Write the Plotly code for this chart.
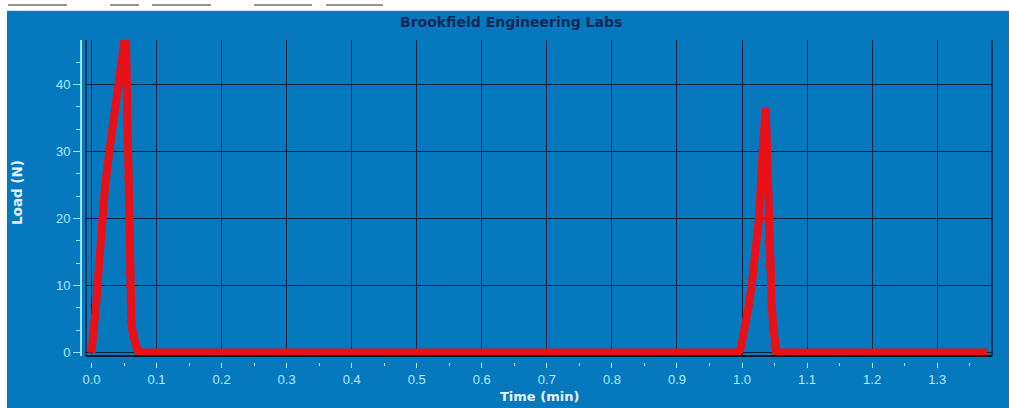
import plotly.graph_objects as go

# ---- data ----
# time in minutes, load in N
peak1_rise_t = [0.000, 0.002, 0.004, 0.0075, 0.010, 0.0157, 0.021, 0.0274, 0.035, 0.0428, 0.0515, 0.0528]
peak1_rise_load = [0.0, 1.5, 3.5, 7.6, 11.0, 20.0, 25.0, 30.0, 35.0, 40.0, 46.6, 48.0]

peak1_fall_t = [0.0531, 0.0534, 0.0537, 0.0540, 0.0543, 0.0546, 0.0550, 0.0553, 0.0556, 0.0560,
                0.0564, 0.0568, 0.0572, 0.0576, 0.0579, 0.0582, 0.0585, 0.0588, 0.0592, 0.0597,
                0.0605, 0.0615, 0.0630, 0.0650, 0.0670, 0.0695, 0.0720, 0.0746]
peak1_fall_load = [46.0, 44.0, 42.0, 40.0, 38.0, 36.0, 34.0, 32.0, 30.0, 28.0,
                   26.0, 24.0, 22.0, 20.0, 18.0, 16.0, 14.0, 12.0, 10.0, 8.0,
                   6.0, 4.5, 3.2, 2.2, 1.4, 0.7, 0.3, 0.0]

baseline_t = [0.0746, 0.25, 0.50, 0.75, 0.9944]
baseline_load = [0.0, 0.0, 0.0, 0.0, 0.0]

peak2_rise_t = [0.9944, 0.9985, 1.0046, 1.0100, 1.0149, 1.0210, 1.0261, 1.0318, 1.0364]
peak2_rise_load = [0.0, 0.8, 3.6, 6.8, 10.0, 15.0, 20.0, 30.0, 36.5]

peak2_fall_t = [1.0370, 1.0378, 1.0385, 1.0390, 1.0395, 1.0410, 1.0425, 1.0441, 1.0460, 1.0482, 1.0500, 1.0530]
peak2_fall_load = [35.0, 32.5, 30.0, 25.0, 20.0, 16.5, 13.0, 10.0, 6.5, 3.6, 1.2, 0.0]

tail_t = [1.0530, 1.20, 1.3766]
tail_load = [0.0, 0.0, 0.0]

x_ticks = [0.0, 0.1, 0.2, 0.3, 0.4, 0.5, 0.6, 0.7, 0.8, 0.9, 1.0, 1.1, 1.2, 1.3]
x_ticklabels = ["0.0", "0.1", "0.2", "0.3", "0.4", "0.5", "0.6", "0.7", "0.8", "0.9", "1.0", "1.1", "1.2", "1.3"]
y_ticks = [0, 10, 20, 30, 40]
y_ticklabels = ["0", "10", "20", "30", "40"]

title_text = "Brookfield Engineering Labs"
x_title = "Time (min)"
y_title = "Load (N)"

# ---- styling ----
W, H = 1009, 408
BLUE = "rgb(6,120,190)"
RED = "rgb(235,16,24)"
GRID = "rgb(12,30,64)"
TICKC = "rgb(175,234,250)"
AXISC = "rgb(150,228,245)"
TITLEC = "rgb(230,242,255)"

L, R, T, B = 81, 17, 40, 46   # plot box incl. offset axis line & floating x ticks
pw = W - L - R
ph = H - T - B

all_t = peak1_rise_t + peak1_fall_t + baseline_t + peak2_rise_t + peak2_fall_t + tail_t
all_load = peak1_rise_load + peak1_fall_load + baseline_load + peak2_rise_load + peak2_fall_load + tail_load

fig = go.Figure()
fig.add_trace(go.Scatter(x=all_t, y=all_load, mode="lines",
                         line=dict(color=RED, width=8), hoverinfo="skip", showlegend=False))
fig.add_trace(go.Scatter(x=peak1_fall_t + peak2_fall_t, y=peak1_fall_load + peak2_fall_load,
                         mode="markers", marker=dict(color=RED, size=8),
                         hoverinfo="skip", showlegend=False))

x0_dom = 5 / pw
y0_dom = 6 / ph

fig.update_layout(
    width=W, height=H,
    margin=dict(l=L, r=R, t=T, b=B),
    paper_bgcolor="white",
    plot_bgcolor=BLUE,
    font=dict(family="Liberation Sans, Arial, sans-serif", size=13, color=TICKC),
    xaxis=dict(
        domain=[x0_dom, 1], anchor="free", position=0,
        range=[-0.00845, 1.3843],
        tickvals=x_ticks, ticktext=x_ticklabels,
        ticks="outside", ticklen=5, tickcolor=TICKC, tickwidth=1,
        showline=False, zeroline=False,
        showgrid=True, gridcolor=GRID, gridwidth=1,
        minor=dict(dtick=0.05, tick0=0, ticks="outside", ticklen=3, tickcolor=TICKC, showgrid=False),
        tickfont=dict(size=13, color=TICKC),
    ),
    yaxis=dict(
        domain=[y0_dom, 1], anchor="free", position=0,
        range=[-0.52, 46.64],
        tickvals=y_ticks, ticktext=y_ticklabels,
        ticks="outside", ticklen=7, tickcolor=AXISC, tickwidth=1,
        showline=True, linecolor=AXISC, linewidth=2,
        zeroline=True, zerolinecolor=GRID, zerolinewidth=1,
        showgrid=True, gridcolor=GRID, gridwidth=1,
        minor=dict(dtick=10 / 3, tick0=0, ticks="outside", ticklen=4, tickcolor=AXISC, showgrid=False),
        tickfont=dict(size=13, color=TICKC),
    ),
)


def px_x(p):
    return (p - L) / pw


def px_y(p):
    return (H - B - p) / ph


shapes = [
    dict(type="rect", xref="paper", yref="paper", x0=px_x(7), x1=px_x(W + 2), y0=px_y(H + 2), y1=px_y(10),
         fillcolor=BLUE, line=dict(width=0), layer="below"),
    dict(type="line", xref="paper", yref="paper", x0=px_x(7), x1=px_x(W), y0=px_y(10.5), y1=px_y(10.5),
         line=dict(color="rgb(200,228,245)", width=1)),
    # plot frame (left, bottom, right)
    dict(type="line", xref="paper", yref="paper", x0=x0_dom, x1=x0_dom, y0=y0_dom, y1=1,
         line=dict(color=GRID, width=1.5)),
    dict(type="line", xref="paper", yref="paper", x0=x0_dom, x1=1, y0=y0_dom, y1=y0_dom,
         line=dict(color="rgb(10,18,36)", width=2)),
    dict(type="line", xref="paper", yref="paper", x0=1, x1=1, y0=y0_dom, y1=1,
         line=dict(color=GRID, width=1.5)),
]
# grey toolbar remnants on top strip
for a, b in [(8, 67), (110, 139), (152, 211), (254, 312), (326, 383)]:
    shapes.append(dict(type="line", xref="paper", yref="paper", x0=px_x(a), x1=px_x(b),
                       y0=px_y(5), y1=px_y(5), line=dict(color="rgb(150,150,150)", width=2)))
fig.update_layout(shapes=shapes)

fig.add_annotation(text="<b>" + title_text + "</b>", xref="paper", yref="paper", x=px_x(511), y=px_y(22),
                   xanchor="center", yanchor="middle", showarrow=False,
                   font=dict(family="DejaVu Sans, Verdana, sans-serif", size=14, color="rgb(14,40,86)"))
fig.add_annotation(text="<b>" + x_title + "</b>", xref="paper", yref="paper", x=px_x(539), y=px_y(396),
                   xanchor="center", yanchor="middle", showarrow=False,
                   font=dict(family="DejaVu Sans, Verdana, sans-serif", size=13, color=TITLEC))
fig.add_annotation(text="<b>" + y_title + "</b>", xref="paper", yref="paper", x=px_x(17), y=px_y(193),
                   xanchor="center", yanchor="middle", showarrow=False, textangle=-90,
                   font=dict(family="DejaVu Sans, Verdana, sans-serif", size=13.5, color=TITLEC))

fig.write_html("out.html", config={"displayModeBar": False},
               post_script="document.body.style.margin='0px';")
